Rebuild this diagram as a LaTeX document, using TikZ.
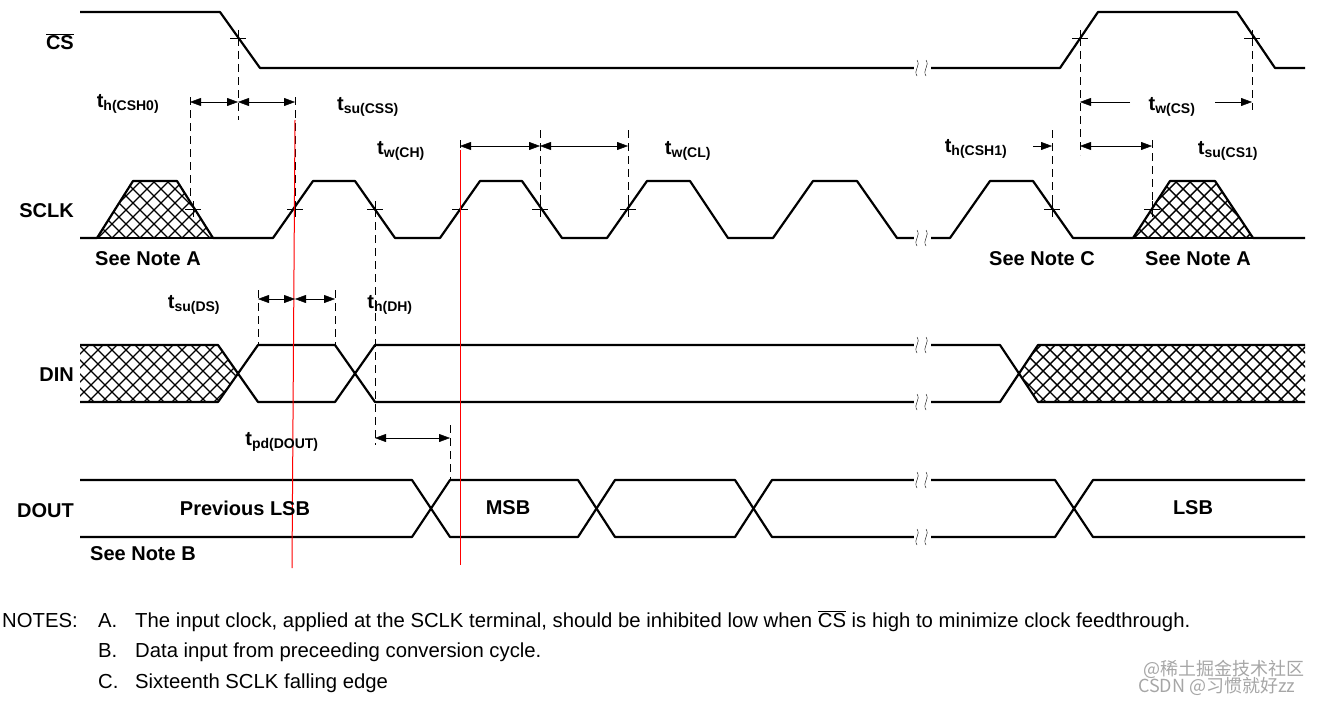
\documentclass[tikz,border=0pt]{standalone}
\usepackage{fontspec}
\setmainfont{Liberation Sans}
\newfontfamily\cjk{Noto Sans CJK SC}
\usetikzlibrary{arrows.meta}
\newcommand{\tlab}[1]{\textbf{t}\textsubscript{\textbf{#1}}}
\begin{document}
\begin{tikzpicture}[x=1pt,y=-1pt,
  sig/.style={line width=2.2pt,line join=round},
  dsh/.style={thin,dash pattern=on 8pt off 5pt},
  redl/.style={draw=red,line width=1pt},
  dim/.style={thin,{Triangle[length=11pt,width=8pt]}-{Triangle[length=11pt,width=8pt]}},
  one/.style={thin,-{Triangle[length=11pt,width=8pt]}},
  lab/.style={font=\fontsize{20}{22}\selectfont\bfseries,inner sep=0},
  note/.style={font=\fontsize{20.3}{22}\selectfont,anchor=base west,inner sep=0}]
\useasboundingbox (0,0) rectangle (1322,701);
\newcommand{\hatchit}[1]{\begin{scope}\clip #1; \foreach \k in {-60,...,150}{\draw[line width=1.4pt] (\k*14,0)--++(700,700) (\k*14,0)--++(-700,700);}\end{scope}}
% hatched areas
\hatchit{(97,238)--(133,181)--(177,181)--(213,238)--cycle}
\hatchit{(1133,238)--(1170,181)--(1215,181)--(1253,238)--cycle}
\hatchit{(80,345)--(218,345)--(237,373.5)--(218,402)--(80,402)--cycle}
\hatchit{(1019,373.5)--(1038,345)--(1305,345)--(1305,402)--(1038,402)--cycle}
% CS
\draw[sig] (80,12)--(220,12)--(260,68)--(1060,68)--(1098,12)--(1237,12)--(1275,68)--(1305,68);
% SCLK
\draw[sig] (80,238)--(213,238) (1133,238)--(1253,238);
\draw[sig] (80,238)--(97,238)--(133,181)--(177,181)--(213,238)--(273,238)--(313,181)--(355,181)--(395,238)--(440,238)--(480,181)--(522,181)--(562,238)--(607,238)--(647,181)--(690,181)--(728,238)--(773,238)--(813,181)--(857,181)--(897,238)--(950,238)--(990,181)--(1033,181)--(1073,238)--(1133,238)--(1170,181)--(1215,181)--(1253,238)--(1305,238);
% DIN
\draw[sig] (80,345)--(218,345)--(258,402)--(335,402)--(375,345)--(1000,345)--(1038,402)--(1305,402);
\draw[sig] (80,402)--(218,402)--(258,345)--(335,345)--(375,402)--(1000,402)--(1038,345)--(1305,345);
% DOUT
\draw[sig] (80,480)--(412,480)--(450,537)--(578,537)--(615,480)--(735,480)--(772,537)--(1055,537)--(1093,480)--(1305,480);
\draw[sig] (80,537)--(412,537)--(450,480)--(578,480)--(615,537)--(735,537)--(772,480)--(1055,480)--(1093,537)--(1305,537);
% breaks
\foreach \yy in {68,238,345,402,480,537}{
  \fill[white] (914,{\yy-6}) rectangle (931,{\yy+6});
  \draw[thin] (917,{\yy+8}) .. controls (913,{\yy+2}) and (921,{\yy-2}) .. (917,{\yy-8});
  \draw[thin] (926,{\yy+8}) .. controls (922,{\yy+2}) and (930,{\yy-2}) .. (926,{\yy-8});}
% cross marks
\foreach \a/\b in {238/38,1080/38,1252/38,193/209,295/209,375/209,460/209,540/209,628/209,1052/209,1152/209}{
  \draw[thin] ({\a-8},\b)--({\a+8},\b) (\a,{\b-8})--(\a,{\b+8});}
% dashed
\draw[dsh] (190,97)--(190,205) (238,38)--(238,120) (295,97)--(295,205) (375,209)--(375,445)
 (460,140)--(460,205) (540,130)--(540,205) (628,130)--(628,205) (1052,130)--(1052,205)
 (1080,38)--(1080,155) (1152,140)--(1152,205) (1252,38)--(1252,110)
 (258,290)--(258,345) (335,290)--(335,345) (450,425)--(450,480);
% red
\draw[redl] (295,120)--(292,568);
\draw[redl] (460,150)--(460,565);
% dims
\draw[dim] (190,102)--(238,102); \draw[dim] (238,102)--(295,102);
\draw[dim] (460,146)--(540,146); \draw[dim] (540,146)--(628,146);
\draw[one] (1033,146)--(1052,146);
\draw[one] (1130,102)--(1080,102); \draw[one] (1215,102)--(1252,102);
\draw[dim] (1080,146)--(1152,146);
\draw[dim] (258,299)--(295,299); \draw[dim] (295,299)--(335,299);
\draw[dim] (375,438)--(450,438);
% labels
\node[lab] at (128,104) {\tlab{h(CSH0)}};
\node[lab] at (368,107) {\tlab{su(CSS)}};
\node[lab] at (401,151) {\tlab{w(CH)}};
\node[lab] at (688,151) {\tlab{w(CL)}};
\node[lab] at (976,149) {\tlab{h(CSH1)}};
\node[lab] at (1172,107) {\tlab{w(CS)}};
\node[lab] at (1228,151) {\tlab{su(CS1)}};
\node[lab] at (194,305) {\tlab{su(DS)}};
\node[lab] at (390,305) {\tlab{h(DH)}};
\node[lab] at (282,442) {\tlab{pd(DOUT)}};
\node[lab,anchor=east] at (74,42) {$\overline{\mbox{CS}}$};
\node[lab,anchor=east] at (74,211) {SCLK};
\node[lab,anchor=east] at (74,375) {DIN};
\node[lab,anchor=east] at (74,511) {DOUT};
\node[lab] at (148,259) {See Note A};
\node[lab] at (1042,259) {See Note C};
\node[lab] at (1198,259) {See Note A};
\node[lab] at (143,554) {See Note B};
\node[lab] at (245,508) {Previous LSB};
\node[lab] at (508,508) {MSB};
\node[lab] at (1193,508) {LSB};
\node[note] at (2,627) {NOTES:};
\node[note] at (98,627) {A.};
\node[note] at (135,627) {The input clock, applied at the SCLK terminal, should be inhibited low when $\overline{\mbox{CS}}$ is high to minimize clock feedthrough.};
\node[note] at (98,657) {B.};
\node[note] at (135,657) {Data input from preceeding conversion cycle.};
\node[note] at (98,688) {C.};
\node[note] at (135,688) {Sixteenth SCLK falling edge};
\node[note,text=black!35,font=\cjk\fontsize{18}{20}\selectfont] at (1143,675) {@稀土掘金技术社区};
\node[note,text=black!35,font=\cjk\fontsize{18}{20}\selectfont] at (1138,692) {CSDN @习惯就好zz};
\fill[black] (80,236.9) rectangle (100,239.1);
\end{tikzpicture}
\end{document}
